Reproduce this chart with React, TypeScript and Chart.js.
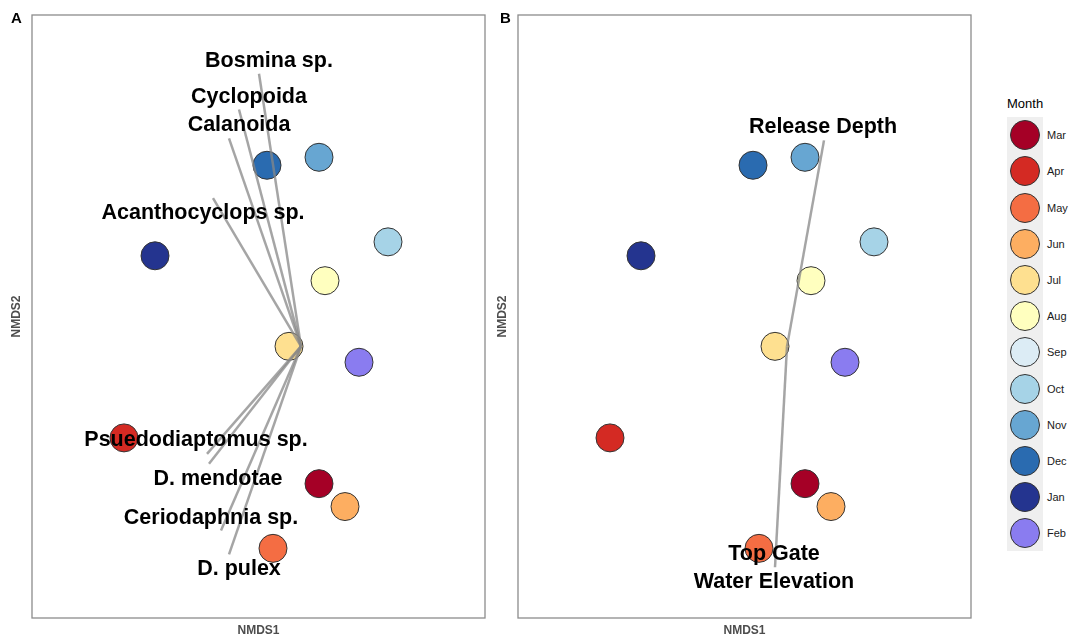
import React, { useEffect, useRef } from "react";
import { Chart, registerables } from "chart.js";

Chart.register(...registerables);

// ---- Data ----
const months = ["Mar", "Apr", "May", "Jun", "Jul", "Aug", "Sep", "Oct", "Nov", "Dec", "Jan", "Feb"];
const monthColors = [
  "#a50026", "#d42a23", "#f46d43", "#fdae61", "#fee090", "#ffffbf",
  "#dcecf5", "#a6d3e7", "#67a6d2", "#2a6bb0", "#24348f", "#8a7cf0",
];
const nmds1: (number | null)[] = [0.09, -0.885, -0.14, 0.22, -0.06, 0.12, null, 0.435, 0.09, -0.17, -0.73, 0.29];
const nmds2: (number | null)[] = [-0.69, -0.46, -1.015, -0.805, 0.0, 0.33, null, 0.525, 0.95, 0.91, 0.455, -0.08];

const speciesNames = [
  "Bosmina sp.", "Cyclopoida", "Calanoida", "Acanthocyclops sp.",
  "Psuedodiaptomus sp.", "D. mendotae", "Ceriodaphnia sp.", "D. pulex",
];
const speciesX = [-0.21, -0.31, -0.36, -0.44, -0.47, -0.46, -0.40, -0.36];
const speciesY = [1.37, 1.19, 1.045, 0.745, -0.54, -0.59, -0.925, -1.045];
const speciesLabelX = [-0.16, -0.26, -0.31, -0.49, -0.525, -0.415, -0.45, -0.31];
const speciesLabelY = [1.435, 1.255, 1.11, 0.67, -0.47, -0.665, -0.865, -1.12];

const envNames = ["Release Depth", "Top Gate\nWater Elevation"];
const envX = [0.185, -0.06];
const envY = [1.035, -1.11];
const envLabelX = [0.18, -0.065];
const envLabelY = [1.10, -1.115];

const xMin = -1.345, xMax = 0.92, yMin = -1.365, yMax = 1.665;

const FONT = "'Liberation Sans', Arial, Helvetica, sans-serif";

function buildConfig(panel: "A" | "B") {
  const pts: { x: number; y: number }[] = [];
  const cols: string[] = [];
  months.forEach((m, i) => {
    const x = nmds1[i], y = nmds2[i];
    if (x !== null && y !== null) {
      pts.push({ x, y });
      cols.push(monthColors[i]);
    }
  });

  const vx = panel === "A" ? speciesX : envX;
  const vy = panel === "A" ? speciesY : envY;
  const names = panel === "A" ? speciesNames : envNames;
  const lx = panel === "A" ? speciesLabelX : envLabelX;
  const ly = panel === "A" ? speciesLabelY : envLabelY;

  const vectorSets = vx.map((x, i) => ({
    type: "scatter" as const,
    label: names[i],
    data: [{ x: 0, y: 0 }, { x, y: vy[i] }],
    showLine: true,
    borderColor: "rgba(135,135,135,0.75)",
    borderWidth: 2.5,
    pointRadius: 0,
    order: 0,
  }));

  const labelPlugin = {
    id: "labels" + panel,
    afterDatasetsDraw(chart: any) {
      const { ctx, chartArea, scales } = chart;
      ctx.save();
      // border
      ctx.strokeStyle = "#8c8c8c";
      ctx.lineWidth = 1.3;
      ctx.strokeRect(chartArea.left, chartArea.top, chartArea.right - chartArea.left, chartArea.bottom - chartArea.top);
      // vector labels
      ctx.fillStyle = "#000";
      ctx.font = `bold 21.5px ${FONT}`;
      ctx.textAlign = "center";
      ctx.textBaseline = "middle";
      names.forEach((n, i) => {
        const px = scales.x.getPixelForValue(lx[i]);
        const py = scales.y.getPixelForValue(ly[i]);
        const lines = n.split("\n");
        const lh = 28;
        lines.forEach((line, j) => {
          ctx.fillText(line, px, py + (j - (lines.length - 1) / 2) * lh);
        });
      });
      // axis titles
      ctx.fillStyle = "#4d4d4d";
      ctx.font = `bold 12px ${FONT}`;
      ctx.fillText("NMDS1", (chartArea.left + chartArea.right) / 2, chartArea.bottom + 13);
      ctx.save();
      ctx.translate(chartArea.left - 15, (chartArea.top + chartArea.bottom) / 2);
      ctx.rotate(-Math.PI / 2);
      ctx.fillText("NMDS2", 0, 0);
      ctx.restore();
      // panel letter
      ctx.fillStyle = "#000";
      ctx.font = `bold 15px ${FONT}`;
      ctx.textAlign = "left";
      ctx.fillText(panel, panel === "A" ? 11 : 14, 19);
      ctx.restore();
    },
  };

  return {
    type: "scatter" as const,
    data: {
      datasets: [
        ...vectorSets,
        {
          label: "Month",
          data: pts,
          backgroundColor: cols,
          borderColor: "#333333",
          borderWidth: 1,
          pointRadius: 14,
          pointHoverRadius: 14,
          order: 1,
        },
      ],
    },
    options: {
      animation: false,
      responsive: false,
      maintainAspectRatio: false,
      layout: { padding: { left: 32, right: 15, top: 12, bottom: 19 } },
      plugins: { legend: { display: false }, tooltip: { enabled: false } },
      scales: {
        x: { type: "linear", min: xMin, max: xMax, display: false },
        y: { type: "linear", min: yMin, max: yMax, display: false },
      },
    },
    plugins: [labelPlugin],
  };
}

export default function App() {
  const refA = useRef<HTMLCanvasElement | null>(null);
  const refB = useRef<HTMLCanvasElement | null>(null);

  useEffect(() => {
    const a = new Chart(refA.current as HTMLCanvasElement, buildConfig("A") as any);
    const b = new Chart(refB.current as HTMLCanvasElement, buildConfig("B") as any);
    return () => {
      a.destroy();
      b.destroy();
    };
  }, []);

  const keyTop = 117;
  const keyStep = 36.2;

  return (
    <div
      style={{
        position: "fixed",
        left: 0,
        top: 0,
        width: 1070,
        height: 637,
        background: "#fff",
        fontFamily: FONT,
        overflow: "hidden",
      }}
    >
      <canvas ref={refA} width={500} height={637} style={{ position: "absolute", left: 0, top: 0 }} />
      <canvas ref={refB} width={500} height={637} style={{ position: "absolute", left: 486, top: 0 }} />
      <div style={{ position: "absolute", left: 1007, top: 96, fontSize: 13, color: "#000" }}>Month</div>
      <div
        style={{
          position: "absolute",
          left: 1007,
          top: keyTop,
          width: 36,
          height: keyStep * months.length,
          background: "#efefef",
        }}
      />
      {months.map((m, i) => (
        <React.Fragment key={m}>
          <div
            style={{
              position: "absolute",
              left: 1010,
              top: keyTop + i * keyStep + keyStep / 2 - 15,
              width: 28,
              height: 28,
              borderRadius: "50%",
              background: monthColors[i],
              border: "1px solid #333",
            }}
          />
          <div
            style={{
              position: "absolute",
              left: 1047,
              top: keyTop + i * keyStep + keyStep / 2 - 7,
              fontSize: 11,
              lineHeight: "14px",
              color: "#1a1a1a",
            }}
          >
            {m}
          </div>
        </React.Fragment>
      ))}
    </div>
  );
}
